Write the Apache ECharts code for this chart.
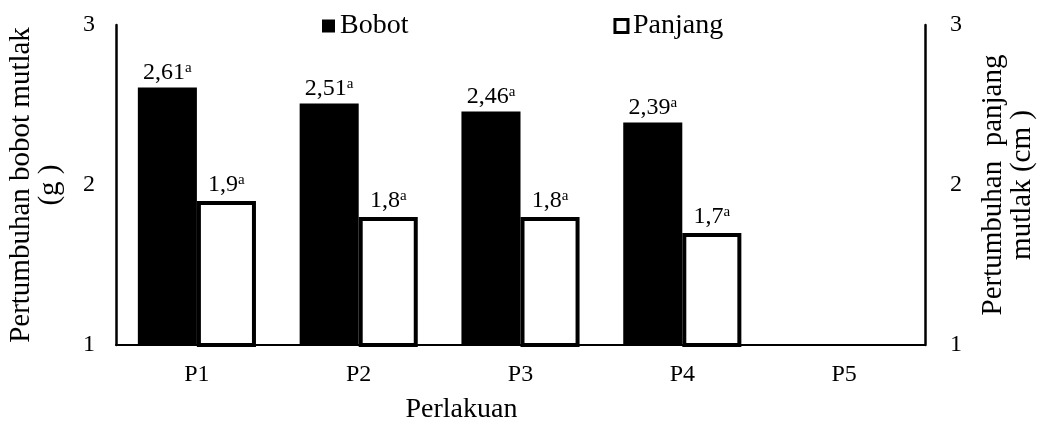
<!DOCTYPE html>
<html>
<head>
<meta charset="utf-8">
<script src="https://cdn.jsdelivr.net/npm/echarts@6/dist/echarts.min.js"></script>
<style>
  html, body { margin: 0; padding: 0; background: #fff; }
  #chart { width: 1043px; height: 428px; }
</style>
</head>
<body>
<div id="chart"></div>
<script>
// Perlakuan (treatments) and measured absolute growth
var categories = ['P1', 'P2', 'P3', 'P4', 'P5'];
var bobot = [2.61, 2.51, 2.46, 2.39, null];       // weight growth (g)
var panjang = [1.9, 1.8, 1.8, 1.7, null];         // length growth (cm)
var bobotLabels = ['2,61', '2,51', '2,46', '2,39', ''];
var panjangLabels = ['1,9', '1,8', '1,8', '1,7', ''];
var notation = ['a', 'a', 'a', 'a', ''];
var yTicks = [1, 2, 3];

var FONT = '"Liberation Serif", "Times New Roman", serif';

function labelRich() {
  return {
    v: { fontFamily: FONT, fontSize: 24, color: '#000', lineHeight: 24 },
    s: { fontFamily: FONT, fontSize: 15, color: '#000', verticalAlign: 'top', lineHeight: 24, padding: [0, 0, 7, 0] }
  };
}

function valueLabel(texts) {
  return function (p) {
    return texts[p.dataIndex] ? '{v|' + texts[p.dataIndex] + '}{s|' + notation[p.dataIndex] + '}' : '';
  };
}

var chart = echarts.init(document.getElementById('chart'), null, { renderer: 'canvas' });

chart.setOption({
  backgroundColor: '#fff',
  animation: false,
  textStyle: { fontFamily: FONT, color: '#000' },
  legend: {
    top: 12,
    left: 322,
    padding: 0,
    itemWidth: 13,
    itemHeight: 13,
    itemGap: 205,
    textStyle: { fontFamily: FONT, fontSize: 28, color: '#000' },
    data: [
      { name: 'Bobot', icon: 'rect', itemStyle: { color: '#000' } },
      { name: 'Panjang', icon: 'rect', itemStyle: { color: '#fff', borderColor: '#000', borderWidth: 3 } }
    ]
  },
  grid: { left: 116, right: 118, top: 25, bottom: 83, containLabel: false, outerBoundsMode: 'none' },
  xAxis: {
    type: 'category',
    data: categories,
    name: 'Perlakuan',
    nameLocation: 'middle',
    nameGap: 51,
    nameTextStyle: { fontFamily: FONT, fontSize: 28, color: '#000', padding: [0, 118, 0, 0] },
    axisLine: { lineStyle: { color: '#000', width: 2 } },
    axisTick: { show: false },
    axisLabel: { fontFamily: FONT, fontSize: 24, color: '#000', margin: 18 }
  },
  yAxis: [
    {
      type: 'value',
      min: yTicks[0], max: yTicks[yTicks.length - 1], interval: 1,
      name: 'Pertumbuhan bobot mutlak\n(g )',
      nameLocation: 'middle',
      nameGap: 51,
      nameTextStyle: { fontFamily: FONT, fontSize: 29, color: '#000', lineHeight: 29 },
      axisLine: { show: true, lineStyle: { color: '#000', width: 2.5 } },
      axisTick: { show: false },
      splitLine: { show: false },
      axisLabel: { fontFamily: FONT, fontSize: 24, color: '#000', margin: 21 }
    },
    {
      type: 'value',
      min: yTicks[0], max: yTicks[yTicks.length - 1], interval: 1,
      name: 'Pertumbuhan  panjang\nmutlak (cm )',
      nameLocation: 'middle',
      nameGap: 54,
      nameRotate: 90,
      nameTextStyle: { fontFamily: FONT, fontSize: 29, color: '#000', lineHeight: 29 },
      axisLine: { show: true, lineStyle: { color: '#000', width: 2.5 } },
      axisTick: { show: false },
      splitLine: { show: false },
      axisLabel: { fontFamily: FONT, fontSize: 24, color: '#000', margin: 25 }
    }
  ],
  series: [
    {
      name: 'Bobot',
      type: 'bar',
      yAxisIndex: 0,
      data: bobot,
      barGap: '0%',
      barCategoryGap: '27%',
      itemStyle: { color: '#000' },
      label: { show: true, position: 'top', distance: 3, formatter: valueLabel(bobotLabels), rich: labelRich() }
    },
    {
      name: 'Panjang',
      type: 'bar',
      yAxisIndex: 1,
      data: panjang,
      itemStyle: { color: '#fff', borderColor: '#000', borderWidth: 4 },
      label: { show: true, position: 'top', distance: 4, formatter: valueLabel(panjangLabels), rich: labelRich() }
    }
  ]
});
</script>
</body>
</html>
